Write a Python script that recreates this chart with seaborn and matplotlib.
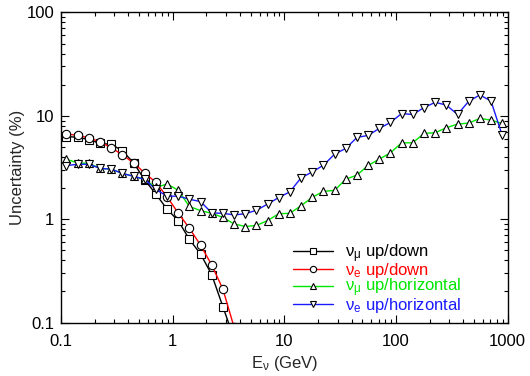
import numpy as np
import pandas as pd
import matplotlib
matplotlib.use("Agg")
import matplotlib.pyplot as plt
import seaborn as sns
from matplotlib.ticker import LogLocator, FixedFormatter, FixedLocator, NullFormatter

# energy bin centres, 10 bins per decade (GeV)
energy = [0.112, 0.141, 0.178, 0.224, 0.282, 0.355, 0.447, 0.562, 0.708, 0.891,
          1.12, 1.41, 1.78, 2.24, 2.82, 3.55, 4.47, 5.62, 7.08, 8.91,
          11.2, 14.1, 17.8, 22.4, 28.2, 35.5, 44.7, 56.2, 70.8, 89.1,
          112, 141, 178, 224, 282, 355, 447, 562, 708, 891]

nan = np.nan
numu_updown = [6.3, 6.2, 5.9, 5.4, 5.3, 4.6, 3.5, 2.4, 1.75, 1.25,
               0.97, 0.64, 0.46, 0.29, 0.142, 0.07, nan, nan, nan, nan,
               nan, nan, nan, nan, nan, nan, nan, nan, nan, nan,
               nan, nan, nan, nan, nan, nan, nan, nan, nan, nan]
nue_updown = [6.65, 6.5, 6.1, 5.6, 4.9, 4.2, 3.5, 2.8, 2.27, 1.65,
              1.15, 0.82, 0.56, 0.36, 0.21, 0.09, nan, nan, nan, nan,
              nan, nan, nan, nan, nan, nan, nan, nan, nan, nan,
              nan, nan, nan, nan, nan, nan, nan, nan, nan, nan]
numu_uphor = [3.8, 3.5, 3.47, 3.1, 3.05, 2.77, 2.6, 2.43, 2.03, 2.19,
              1.91, 1.33, 1.21, 1.14, 1.04, 0.90, 0.85, 0.87, 0.97, 1.13,
              1.14, 1.35, 1.63, 1.86, 1.90, 2.44, 2.67, 3.31, 3.81, 4.38,
              5.48, 5.48, 6.76, 6.86, 7.66, 8.32, 8.5, 9.44, 9.08, 8.43]
nue_uphor = [3.3, 3.4, 3.4, 3.1, 3.05, 2.77, 2.6, 2.43, 1.94, 1.67,
             1.67, 1.56, 1.48, 1.15, 1.14, 1.10, 1.13, 1.22, 1.40, 1.62,
             1.84, 2.51, 2.87, 3.33, 4.26, 4.84, 6.18, 6.46, 7.55, 8.63,
             10.5, 10.3, 12.0, 13.5, 12.7, 10.3, 13.8, 15.9, 13.9, 6.5]

labels = ["ν$_\\mu$ up/down", "ν$_e$ up/down",
          "ν$_\\mu$ up/horizontal", "ν$_e$ up/horizontal"]
colors = ["black", "#ff0000", "#00e600", "#1a1aff"]
markers = ["s", "o", "^", "v"]

sns.set_style("ticks")
plt.rcParams['font.family'] = ['Liberation Sans', 'DejaVu Sans']
plt.rcParams['mathtext.fontset'] = 'custom'
plt.rcParams['mathtext.rm'] = 'Liberation Sans'
plt.rcParams['mathtext.it'] = 'Liberation Sans'

df = pd.DataFrame({"E": energy, labels[0]: numu_updown, labels[1]: nue_updown,
                   labels[2]: numu_uphor, labels[3]: nue_uphor})

fig = plt.figure(figsize=(5.3, 3.76), dpi=100)
ax = fig.add_axes([0.115, 0.142, 0.843, 0.825])

for lab, col, mk in zip(labels, colors, markers):
    sns.lineplot(data=df, x="E", y=lab, ax=ax, color=col, marker=mk,
                 markersize=6, markeredgecolor="black", markerfacecolor="white",
                 markeredgewidth=0.8, linewidth=1.0, label=lab)

ax.set_xscale("log")
ax.set_yscale("log")
ax.set_xlim(0.1, 1000)
ax.set_ylim(0.1, 100)

ax.xaxis.set_major_locator(FixedLocator([0.1, 1, 10, 100, 1000]))
ax.xaxis.set_major_formatter(FixedFormatter(["0.1", "1", "10", "100", "1000"]))
ax.yaxis.set_major_locator(FixedLocator([0.1, 1, 10, 100]))
ax.yaxis.set_major_formatter(FixedFormatter(["0.1", "1", "10", "100"]))
for a in (ax.xaxis, ax.yaxis):
    a.set_minor_locator(LogLocator(base=10, subs=np.arange(2, 10), numticks=20))
    a.set_minor_formatter(NullFormatter())

ax.tick_params(which="both", direction="in", top=True, right=True, labelsize=12,
               width=0.8, colors="black")
ax.tick_params(which="major", length=6, pad=5)
ax.tick_params(axis="x", which="major", pad=8)
ax.tick_params(which="minor", length=3)
for s in ax.spines.values():
    s.set_linewidth(1.0)
    s.set_color("black")

ax.set_xlabel("E$_\\nu$ (GeV)", fontsize=12, labelpad=4)
ax.set_ylabel("Uncertainty (%)", fontsize=12, labelpad=1)

leg = ax.legend(loc="upper left", bbox_to_anchor=(0.52, 0.26), frameon=False,
                fontsize=12, handlelength=2.4, handletextpad=0.7,
                labelspacing=-0.2, borderaxespad=0, borderpad=0,
                labelcolor=colors, markerscale=0.75)

fig.savefig("out.png", dpi=100)
